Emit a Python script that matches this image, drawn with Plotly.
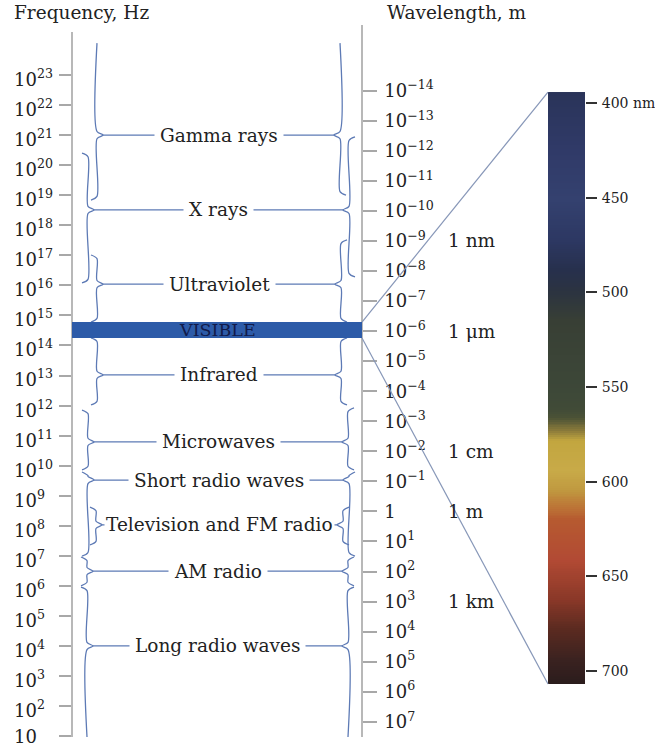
import math
import plotly.graph_objects as go

# ---------------- data ----------------
freq_exponents = list(range(1, 24))                      # 10 ... 10^23 Hz
freq_ticktext = ["10" if e == 1 else f"10<sup>{e}</sup>" for e in freq_exponents]

wl_exponents = list(range(-14, 8))                       # 10^-14 ... 10^7 m
wl_ticktext = ["1" if e == 0 else f"10<sup>{str(e).replace('-', '−')}</sup>" for e in wl_exponents]

band_names = ["Gamma rays", "X rays", "Ultraviolet", "Infrared", "Microwaves",
              "Short radio waves", "Television and FM radio", "AM radio", "Long radio waves"]
band_label_exp = [21.0, 18.51, 16.04, 13.02, 10.79, 9.52, 8.03, 6.49, 4.0]
band_left_top = [24.06, 20.40, 17.01, 14.25, 11.85, 9.79, 8.62, 6.96, 5.96]
band_left_bot = [18.84, 16.08, 14.78, 12.02, 9.86, 6.99, 7.36, 6.0, 0.97]
band_right_top = [24.06, 20.94, 17.51, 14.25, 11.92, 9.79, 8.62, 6.96, 5.96]
band_right_bot = [19.0, 16.28, 14.78, 12.02, 9.86, 6.99, 7.36, 6.0, 0.97]
band_top_curl = [False, True, True, True, True, True, True, True, True]
band_bot_curl = [True, True, True, True, True, True, True, True, False]

visible_exp = (14.25, 14.78)
visible_label = "VISIBLE"

unit_labels = ["1 nm", "1 μm", "1 cm", "1 m", "1 km"]
unit_wl_exp = [-9, -6, -2, 0, 3]

spectrum_ticks_nm = [400, 450, 500, 550, 600, 650, 700]
spectrum_ticktext = ["400 nm", "450", "500", "550", "600", "650", "700"]
spectrum_range_nm = (394.2, 706.9)
spectrum_stop_nm = [394, 425, 451, 472, 488, 499, 515, 552, 562, 566, 573, 578,
                    594, 604, 612, 620, 641, 662, 678, 694, 707]
spectrum_stop_color = ["#2a3459", "#303a68", "#34416f", "#2d3863", "#27304d", "#2b3341",
                       "#383f35", "#3d4838", "#414b37", "#4b5236", "#8a7a3a", "#c2a63f",
                       "#c8aa48", "#c09a40", "#bd7a38", "#b65a30", "#b24a34", "#8a3828",
                       "#5a2a20", "#3a2220", "#2a1c1c"]

LOG_C = math.log10(2.998e8)

# ---------------- layout geometry ----------------
W, H = 655, 751
PX_E23, PX_PER_DEC = 75.0, 30.05
PX_NM400, PX_PER_NM = 103.0, (671.0 - 103.0) / 300.0
X_LEFT_AXIS, X_RIGHT_AXIS, X_BAR0, X_BAR1 = 72, 362, 548, 585
LEFT_AX_PX, RIGHT_AX_PX, AX_BOTTOM_PX = 32, 25, 737
band_left_x = [97, 88, 97, 97, 88, 88, 96, 87, 87]
band_right_x = [340, 349, 341, 341, 348, 349, 343, 348, 348]

def px_e(py):
    return 23 - (py - PX_E23) / PX_PER_DEC

def e_px(e):
    return PX_E23 + (23 - e) * PX_PER_DEC

def nm_px(nm):
    return PX_NM400 + (nm - 400) * PX_PER_NM

def paper(py):
    return (H - py) / H

SERIF = "DejaVu Serif"
BRACE = "#5d7ab5"
TXT = "#222222"

fig = go.Figure()

# braces
def brace(x0, top, bot, cusp, direction, curl_top, curl_bot):
    h = 6
    dc, dk = 0.12, 0.12
    xs, ys = [], []
    if curl_top:
        xs += [x0 - direction * 6, x0]
        ys += [top, top - dc]
    else:
        xs += [x0]
        ys += [top]
    xs += [x0, x0 + direction * h, x0, x0]
    ys += [cusp + dk, cusp, cusp - dk, bot + (dc if curl_bot else 0)]
    if curl_bot:
        xs += [x0 - direction * 6]
        ys += [bot]
    return xs, ys

for i, name in enumerate(band_names):
    for x0, top, bot, d in [(band_left_x[i], band_left_top[i], band_left_bot[i], 1),
                            (band_right_x[i], band_right_top[i], band_right_bot[i], -1)]:
        xs, ys = brace(x0, top, bot, band_label_exp[i], d, band_top_curl[i], band_bot_curl[i])
        fig.add_trace(go.Scatter(x=xs, y=ys, mode="lines",
                                 line=dict(color=BRACE, width=1.3, shape="spline", smoothing=0.8),
                                 hoverinfo="skip", showlegend=False, cliponaxis=False))
    fig.add_trace(go.Scatter(x=[band_left_x[i] + 6, band_right_x[i] - 6],
                             y=[band_label_exp[i]] * 2, mode="lines",
                             line=dict(color=BRACE, width=1.3),
                             hoverinfo="skip", showlegend=False))
    fig.add_annotation(x=(band_left_x[i] + band_right_x[i]) / 2, y=band_label_exp[i],
                       xref="x", yref="y", text=name, showarrow=False, yanchor="middle",
                       font=dict(family=SERIF, size=18.5, color=TXT),
                       bgcolor="white", borderpad=5 if i != 6 else 1)

# dummy trace so the wavelength axis is drawn
fig.add_trace(go.Scatter(x=[X_RIGHT_AXIS], y=[0], yaxis="y2", mode="markers",
                         marker=dict(opacity=0), hoverinfo="skip", showlegend=False))

# visible spectrum strip
edges = [spectrum_range_nm[0] + k for k in range(0, int(spectrum_range_nm[1] - spectrum_range_nm[0]) + 2)]
centers = [(a + b) / 2 for a, b in zip(edges[:-1], edges[1:])]
lo, hi = spectrum_stop_nm[0], spectrum_stop_nm[-1]
cscale = [[(n - lo) / (hi - lo), c] for n, c in zip(spectrum_stop_nm, spectrum_stop_color)]
fig.add_trace(go.Heatmap(x=[X_BAR0, X_BAR1], y=edges, z=[[c] for c in centers],
                         colorscale=cscale, zmin=lo, zmax=hi, showscale=False,
                         yaxis="y3", hoverinfo="skip"))

# VISIBLE bar
fig.add_shape(type="rect", xref="x", yref="y", x0=X_LEFT_AXIS, x1=X_RIGHT_AXIS,
              y0=visible_exp[0], y1=visible_exp[1], fillcolor="#2d5ba8",
              line=dict(width=0), layer="above")
fig.add_annotation(x=(X_LEFT_AXIS + X_RIGHT_AXIS) / 2, y=sum(visible_exp) / 2, xref="x", yref="y",
                   text=visible_label, showarrow=False, yanchor="middle",
                   font=dict(family=SERIF, size=17.5, color="#111a4a"))

# connector lines to the spectrum strip
for e_end, nm_end in [(visible_exp[1], spectrum_range_nm[0]), (visible_exp[0], spectrum_range_nm[1])]:
    fig.add_shape(type="line", xref="x", yref="paper",
                  x0=X_RIGHT_AXIS, y0=paper(e_px(e_end)), x1=X_BAR0, y1=paper(nm_px(nm_end)),
                  line=dict(color="#8797b8", width=1.2), layer="above")

# left tick labels
for e, t in zip(freq_exponents, freq_ticktext):
    fig.add_annotation(x=12, y=e, xref="x", yref="y", text=t, showarrow=False,
                       xanchor="left", yanchor="middle", yshift=-3 if e > 1 else 0,
                       font=dict(family=SERIF, size=18, color=TXT))

# unit labels
for t, w in zip(unit_labels, unit_wl_exp):
    fig.add_annotation(x=446, y=w, xref="x", yref="y2", text=t, showarrow=False,
                       xanchor="left", yanchor="middle",
                       font=dict(family=SERIF, size=18.5, color=TXT))

# headers
fig.add_annotation(x=12, y=paper(13), xref="x", yref="paper", text="Frequency, Hz",
                   showarrow=False, xanchor="left", yanchor="middle",
                   font=dict(family=SERIF, size=18.5, color=TXT))
fig.add_annotation(x=385, y=paper(13), xref="x", yref="paper", text="Wavelength, m",
                   showarrow=False, xanchor="left", yanchor="middle",
                   font=dict(family=SERIF, size=18.5, color=TXT))

fig.update_layout(
    width=W, height=H, margin=dict(l=0, r=0, t=0, b=0, autoexpand=False),
    paper_bgcolor="white", plot_bgcolor="rgba(0,0,0,0)", showlegend=False,
    xaxis=dict(range=[0, W], domain=[0, 1], visible=False, fixedrange=True),
    yaxis=dict(domain=[paper(AX_BOTTOM_PX), paper(LEFT_AX_PX)],
               range=[px_e(AX_BOTTOM_PX), px_e(LEFT_AX_PX)],
               anchor="free", position=X_LEFT_AXIS / W, side="left",
               showline=True, linecolor="#b8b8b8", linewidth=1.5,
               ticks="outside", ticklen=12, tickwidth=1.5, tickcolor="#a8a8a8",
               tickvals=freq_exponents, showticklabels=False,
               showgrid=False, zeroline=False, fixedrange=True, automargin=False),
    yaxis2=dict(domain=[paper(AX_BOTTOM_PX), paper(RIGHT_AX_PX)],
                range=[LOG_C - px_e(AX_BOTTOM_PX), LOG_C - px_e(RIGHT_AX_PX)],
                anchor="free", position=X_RIGHT_AXIS / W, side="right",
                showline=True, linecolor="#b8b8b8", linewidth=1.5,
                ticks="outside", ticklen=14, tickwidth=1.5, tickcolor="#a8a8a8",
                tickvals=wl_exponents, ticktext=wl_ticktext, ticklabelstandoff=4,
                tickfont=dict(family=SERIF, size=18, color=TXT),
                showgrid=False, zeroline=False, fixedrange=True, automargin=False),
    yaxis3=dict(domain=[paper(nm_px(spectrum_range_nm[1])), paper(nm_px(spectrum_range_nm[0]))],
                range=[spectrum_range_nm[1], spectrum_range_nm[0]],
                anchor="free", position=X_BAR1 / W, side="right",
                showline=False, ticks="outside", ticklen=11, tickwidth=2, tickcolor="#333333",
                tickvals=spectrum_ticks_nm, ticktext=spectrum_ticktext, ticklabelstandoff=2,
                tickfont=dict(family=SERIF, size=14, color=TXT),
                showgrid=False, zeroline=False, fixedrange=True, automargin=False),
)

fig.write_html("out.html", config={"displayModeBar": False},
               post_script="document.body.style.margin='0';document.body.style.overflow='hidden';")
